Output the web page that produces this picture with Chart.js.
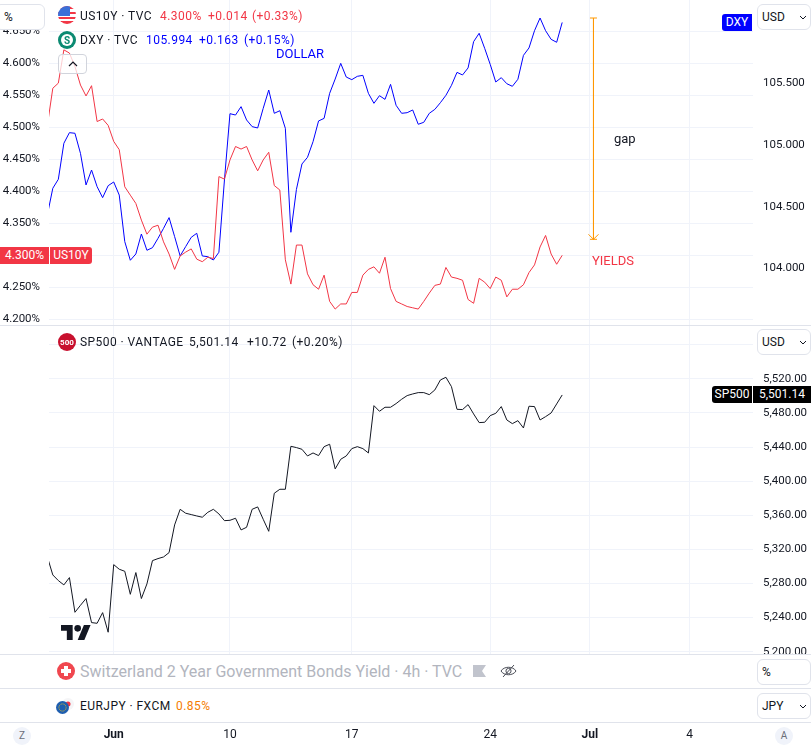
<!DOCTYPE html>
<html lang="en">
<head>
<meta charset="UTF-8">
<title>US10Y DXY SP500</title>
<script src="https://cdn.jsdelivr.net/npm/chart.js"></script>
<style>
  html, body { margin: 0; padding: 0; background: #fff; }
  body { width: 811px; height: 747px; overflow: hidden; position: relative; font-family: Roboto, sans-serif; color: #131722; }
  canvas { position: absolute; left: 0; }
  .abs { position: absolute; white-space: nowrap; }
  .legend { font-size: 12px; line-height: 16px; letter-spacing: 0.45px; }
  .sep { position: absolute; left: 0; width: 811px; height: 1px; background: #e0e3eb; }
  .box { position: absolute; box-sizing: border-box; height: 26px; border: 1px solid #e0e3eb; border-radius: 6px; background: #fff; font-size: 12px; line-height: 24px; padding-left: 4px; }
  .tag { position: absolute; color: #fff; font-size: 12px; line-height: 17px; height: 17px; text-align: center; }
  .round { position: absolute; width: 18px; height: 18px; border-radius: 50%; background: #f0f3fa; color: #6a6d78; font-size: 10px; line-height: 18px; text-align: center; }
  svg { position: absolute; }
</style>
</head>
<body>
<canvas id="topChart" width="811" height="325" style="top:0"></canvas>
<canvas id="bottomChart" width="811" height="422" style="top:325px"></canvas>

<!-- extra panes cover the grid between the price chart and the time axis -->
<div class="abs" style="left:0;top:654px;width:811px;height:68px;background:#fff"></div>
<div class="sep" style="top:325px"></div>
<div class="sep" style="top:654px"></div>
<div class="sep" style="top:688px"></div>
<div class="sep" style="top:722px"></div>

<!-- legend rows -->
<svg style="left:58px;top:6px" width="18" height="18" viewBox="0 0 18 18">
  <defs><clipPath id="c"><circle cx="9" cy="9" r="9"/></clipPath></defs>
  <g clip-path="url(#c)">
    <rect width="18" height="18" fill="#fff"/>
    <rect y="0" width="18" height="3" fill="#f23645"/>
    <rect y="6" width="18" height="2" fill="#f23645"/>
    <rect y="11" width="18" height="2" fill="#f23645"/>
    <rect y="15" width="18" height="3" fill="#f23645"/>
    <rect width="12" height="10" fill="#3a6fd8"/>
  </g>
</svg>
<div class="abs legend" style="left:80px;top:8px">US10Y · TVC</div>
<div class="abs legend" style="left:160px;top:8px;color:#f23645">4.300%</div>
<div class="abs legend" style="left:208px;top:8px;color:#f23645">+0.014</div>
<div class="abs legend" style="left:252px;top:8px;color:#f23645">(+0.33%)</div>

<svg style="left:58px;top:31px" width="18" height="18" viewBox="0 0 18 18">
  <circle cx="9" cy="9" r="9" fill="#0b8a72"/>
  <circle cx="9" cy="9" r="6" fill="#fff"/>
  <text x="9" y="12.5" text-anchor="middle" font-size="10" font-weight="bold" fill="#0b8a72" font-family="Roboto">S</text>
</svg>
<div class="abs legend" style="left:80px;top:32px">DXY · TVC</div>
<div class="abs legend" style="left:146px;top:32px;color:#0000ff">105.994</div>
<div class="abs legend" style="left:199px;top:32px;color:#0000ff">+0.163</div>
<div class="abs legend" style="left:244px;top:32px;color:#0000ff">(+0.15%)</div>

<svg style="left:58px;top:333px" width="18" height="18" viewBox="0 0 18 18">
  <circle cx="9" cy="9" r="9" fill="#c8102e"/>
  <text x="9" y="12" text-anchor="middle" font-size="8" font-weight="bold" fill="#fff" font-family="Roboto">500</text>
</svg>
<div class="abs legend" style="left:80px;top:334px">SP500 · VANTAGE</div>
<div class="abs legend" style="left:189px;top:334px">5,501.14</div>
<div class="abs legend" style="left:247px;top:334px">+10.72</div>
<div class="abs legend" style="left:292px;top:334px">(+0.20%)</div>

<svg style="left:57px;top:662px" width="18" height="18" viewBox="0 0 18 18">
  <circle cx="9" cy="9" r="9" fill="#f0474f"/>
  <rect x="7" y="4" width="4" height="10" fill="#fff"/>
  <rect x="4" y="7" width="10" height="4" fill="#fff"/>
</svg>
<div class="abs" style="left:80px;top:662px;font-size:16px;line-height:20px;color:#b2b5be">Switzerland 2 Year Government Bonds Yield · 4h · TVC</div>
<svg style="left:473px;top:664px" width="13" height="14" viewBox="0 0 13 14">
  <path d="M0 1H13L9 7L13 13H0Z" fill="#c1c4cd"/>
</svg>
<svg style="left:500px;top:663px" width="17" height="16" viewBox="0 0 17 16" fill="none" stroke="#4a4d57" stroke-width="1">
  <path d="M1 8C4 3 13 3 16 8C13 13 4 13 1 8Z"/>
  <circle cx="8.5" cy="8" r="2.6"/>
  <path d="M3 14L14 2"/>
</svg>

<svg style="left:62px;top:698px" width="12" height="12" viewBox="0 0 12 12">
  <circle cx="6" cy="6" r="6" fill="#f5f5f7"/>
  <circle cx="6" cy="6" r="2.5" fill="#f23645"/>
</svg>
<svg style="left:56px;top:701px" width="13" height="13" viewBox="0 0 13 13">
  <circle cx="6.5" cy="6.5" r="6.5" fill="#1f5fb0"/>
  <circle cx="6.5" cy="6.5" r="3.6" fill="none" stroke="#f5c518" stroke-width="1" stroke-dasharray="1 1.2"/>
</svg>
<div class="abs legend" style="left:80px;top:698px">EURJPY · FXCM</div>
<div class="abs legend" style="left:176px;top:698px;color:#f57c00">0.85%</div>

<!-- notes drawn on the chart -->
<div class="abs" style="left:276px;top:46px;font-size:13px;line-height:16px;color:#0000ff">DOLLAR</div>
<div class="abs" style="left:592px;top:253px;font-size:13px;line-height:16px;color:#f23645">YIELDS</div>
<div class="abs" style="left:614px;top:131px;font-size:13px;line-height:16px">gap</div>

<!-- unit buttons -->
<div class="box" style="left:-5px;top:4px;width:50px;padding-left:8px">%</div>
<div class="box" style="left:757px;top:4px;width:54px">USD<svg style="left:41px;top:10px" width="8" height="5" viewBox="0 0 8 5"><path d="M1 1L4 4L7 1" fill="none" stroke="#131722"/></svg></div>
<div class="box" style="left:757px;top:329px;width:54px">USD<svg style="left:41px;top:10px" width="8" height="5" viewBox="0 0 8 5"><path d="M1 1L4 4L7 1" fill="none" stroke="#131722"/></svg></div>
<div class="box" style="left:757px;top:659px;width:54px">%</div>
<div class="box" style="left:757px;top:693px;width:54px">JPY<svg style="left:41px;top:10px" width="8" height="5" viewBox="0 0 8 5"><path d="M1 1L4 4L7 1" fill="none" stroke="#131722"/></svg></div>

<div class="abs" style="left:58px;top:54px;width:29px;height:20px;box-sizing:border-box;border:1px solid #d1d4dc;border-radius:4px;background:rgba(255,255,255,.75)">
  <svg style="left:9px;top:6px" width="10" height="6" viewBox="0 0 10 6"><path d="M1 5L5 1L9 5" fill="none" stroke="#131722" stroke-width="1.2"/></svg>
</div>

<!-- last price tags -->
<div class="tag" style="left:0;top:247px;width:49px;background:#f23645">4.300%</div>
<div class="tag" style="left:50px;top:247px;width:42px;background:#f23645;border-radius:0 3px 3px 0">US10Y</div>
<div class="tag" style="left:722px;top:14px;width:30px;background:#0000ff;border-radius:3px 0 0 3px">DXY</div>
<div class="tag" style="left:712px;top:386px;width:40px;background:#000;border-radius:3px 0 0 3px">SP500</div>
<div class="tag" style="left:753px;top:386px;width:58px;background:#000">5,501.14</div>

<!-- logo -->
<svg style="left:61px;top:625px" width="30" height="15" viewBox="0 4 36 18">
  <path d="M14 22H7V11H0V4h14v18zM28 22h-8l7.5-18h8L28 22z" fill="#131722"/>
  <circle cx="20" cy="8" r="4" fill="#131722"/>
</svg>

<!-- bottom corner buttons -->
<div class="round" style="left:13px;top:727px">Z</div>
<div class="round" style="left:775px;top:727px">A</div>

<script>
const yields = [4.502, 4.561, 4.569, 4.621, 4.616, 4.595, 4.566, 4.549, 4.565, 4.509,
  4.513, 4.503, 4.478, 4.465, 4.407, 4.394, 4.381, 4.355, 4.333, 4.344,
  4.347, 4.321, 4.302, 4.278, 4.299, 4.305, 4.310, 4.294, 4.290, 4.297,
  4.295, 4.423, 4.419, 4.449, 4.470, 4.466, 4.470, 4.449, 4.432, 4.449,
  4.461, 4.409, 4.402, 4.293, 4.255, 4.316, 4.316, 4.271, 4.254, 4.247,
  4.269, 4.228, 4.216, 4.224, 4.224, 4.242, 4.242, 4.269, 4.278, 4.282,
  4.272, 4.297, 4.248, 4.228, 4.224, 4.220, 4.218, 4.216, 4.228, 4.241,
  4.253, 4.255, 4.281, 4.266, 4.264, 4.261, 4.231, 4.225, 4.264, 4.258,
  4.248, 4.266, 4.261, 4.235, 4.247, 4.247, 4.254, 4.273, 4.285, 4.313,
  4.331, 4.302, 4.286, 4.300];

const dollar = [104.430, 104.649, 104.722, 105.014, 105.100, 105.095, 104.932, 104.676, 104.797, 104.662,
  104.573, 104.670, 104.700, 104.594, 104.216, 104.065, 104.116, 104.278, 104.146, 104.167,
  104.243, 104.324, 104.411, 104.257, 104.100, 104.176, 104.251, 104.284, 104.100, 104.094,
  104.067, 104.130, 104.716, 105.254, 105.243, 105.311, 105.203, 105.149, 105.138, 105.297,
  105.446, 105.257, 105.278, 105.135, 104.292, 104.640, 104.846, 104.900, 105.027, 105.195,
  105.216, 105.419, 105.535, 105.662, 105.551, 105.530, 105.557, 105.565, 105.419, 105.338,
  105.400, 105.370, 105.492, 105.322, 105.257, 105.262, 105.284, 105.168, 105.184, 105.257,
  105.289, 105.343, 105.403, 105.484, 105.589, 105.568, 105.625, 105.838, 105.906, 105.784,
  105.654, 105.511, 105.546, 105.497, 105.476, 105.533, 105.727, 105.787, 105.927, 106.030,
  105.927, 105.857, 105.833, 105.994];

const sp500 = [5311.5, 5290.0, 5283.4, 5278.3, 5286.9, 5246.2, 5254.4, 5262.3, 5234.1, 5233.3,
  5245.8, 5222.8, 5302.1, 5296.7, 5294.3, 5267.3, 5292.8, 5262.3, 5279.5, 5306.8,
  5309.2, 5311.1, 5316.2, 5348.7, 5367.0, 5362.4, 5360.8, 5359.2, 5357.7, 5363.5,
  5367.0, 5361.6, 5353.7, 5354.1, 5356.5, 5342.8, 5345.9, 5367.0, 5369.8, 5355.3,
  5341.2, 5385.8, 5390.5, 5390.5, 5440.9, 5439.4, 5437.4, 5429.6, 5433.1, 5430.0,
  5440.5, 5443.3, 5414.4, 5425.7, 5429.6, 5438.2, 5440.5, 5438.2, 5433.1, 5488.6,
  5482.0, 5486.7, 5486.7, 5491.0, 5496.1, 5500.4, 5502.3, 5503.9, 5503.9, 5501.5,
  5507.0, 5518.7, 5521.9, 5510.9, 5484.3, 5484.0, 5489.8, 5478.9, 5468.7, 5469.1,
  5476.9, 5479.6, 5487.5, 5471.8, 5467.5, 5471.0, 5462.4, 5487.9, 5487.5, 5471.8,
  5475.7, 5480.0, 5490.6, 5501.14];

const dateTicks = [12, 33, 55, 80, 98, 116];
const dateLabels = ['Jun', '10', '17', '24', 'Jul', '4'];
const monthLabels = ['Jun', 'Jul'];

const yieldTicks = [4.20, 4.25, 4.30, 4.35, 4.40, 4.45, 4.50, 4.55, 4.60, 4.65];
const dollarTicks = [104.0, 104.5, 105.0, 105.5];
const spTicks = [5200, 5240, 5280, 5320, 5360, 5400, 5440, 5480, 5520, 5560];

// the orange "gap" arrow: bar position, dollar high, where it lands
const gapX = [98.65, 98.65];
const gapY = [106.03, 104.235];

const xRange = { min: 0.314, max: 127.46 };
const gridColor = '#f0f3fa';
const tickFont = { family: 'Roboto, sans-serif', size: 11.5 };

function points(values) {
  return values.map((v, i) => ({ x: i, y: v }));
}

function setTicks(list) {
  return axis => { axis.ticks = list.map(v => ({ value: v })); };
}

// chart.js insets the plot for half a label, we want the plot edge to edge
function noInset(axis) {
  axis.paddingTop = axis.paddingBottom = axis.paddingLeft = axis.paddingRight = 0;
}

function fixedWidth(w) {
  return axis => { axis.width = w; noInset(axis); };
}

function dateScale(showLabels) {
  return {
    type: 'linear',
    min: xRange.min,
    max: xRange.max,
    afterBuildTicks: setTicks(dateTicks),
    afterFit: axis => { axis.height = showLabels ? 25 : 0; noInset(axis); },
    border: { display: false },
    grid: { color: gridColor, drawTicks: false },
    ticks: {
      display: showLabels,
      autoSkip: false,
      maxRotation: 0,
      padding: 6,
      color: '#131722',
      font: ctx => {
        // the scale asks once with no tick while it measures
        const label = ctx.tick ? dateLabels[dateTicks.indexOf(ctx.tick.value)] : '';
        return { family: tickFont.family, size: 12, weight: monthLabels.includes(label) ? 'bold' : 'normal' };
      },
      callback: v => dateLabels[dateTicks.indexOf(v)]
    }
  };
}

// caps on the gap arrow, taken from the dataset's own points
const gapCaps = {
  id: 'gapCaps',
  afterDatasetsDraw(chart) {
    const meta = chart.getDatasetMeta(2);
    if (!meta.data.length) return;
    const top = meta.data[0], end = meta.data[1];
    const ctx = chart.ctx;
    ctx.save();
    ctx.strokeStyle = '#ff9800';
    ctx.lineWidth = 1;
    ctx.beginPath();
    ctx.moveTo(top.x - 3.5, top.y);
    ctx.lineTo(top.x + 3.5, top.y);
    ctx.moveTo(end.x - 5, end.y - 5);
    ctx.lineTo(end.x, end.y);
    ctx.lineTo(end.x + 5, end.y - 5);
    ctx.moveTo(end.x - 3.5, end.y);
    ctx.lineTo(end.x + 3.5, end.y);
    ctx.stroke();
    ctx.restore();
  }
};

const baseOptions = {
  responsive: false,
  animation: false,
  plugins: { legend: { display: false }, tooltip: { enabled: false } },
  elements: { point: { radius: 0 }, line: { tension: 0, borderWidth: 1 } }
};

new Chart(document.getElementById('topChart'), {
  type: 'line',
  data: {
    datasets: [
      { data: points(yields), borderColor: '#f23645', yAxisID: 'y' },
      { data: points(dollar), borderColor: '#0000ff', yAxisID: 'y1' },
      { data: gapX.map((x, i) => ({ x: x, y: gapY[i] })), borderColor: '#ff9800', yAxisID: 'y1' }
    ]
  },
  plugins: [gapCaps],
  options: {
    ...baseOptions,
    scales: {
      x: dateScale(false),
      y: {
        position: 'left',
        min: 4.1911,
        max: 4.6989,
        afterBuildTicks: setTicks(yieldTicks),
        afterFit: fixedWidth(49),
        border: { display: false },
        grid: { color: gridColor, drawTicks: false },
        ticks: { padding: 9, color: '#131722', font: tickFont, callback: v => v.toFixed(3) + '%' }
      },
      y1: {
        position: 'right',
        min: 103.540,
        max: 106.176,
        afterBuildTicks: setTicks(dollarTicks),
        afterFit: fixedWidth(58),
        border: { display: false },
        grid: { display: false, drawTicks: false },
        ticks: { padding: 10, color: '#131722', font: tickFont, callback: v => v.toFixed(3) }
      }
    }
  }
});

new Chart(document.getElementById('bottomChart'), {
  type: 'line',
  data: {
    datasets: [
      { data: points(sp500), borderColor: '#131722', yAxisID: 'y' }
    ]
  },
  options: {
    ...baseOptions,
    layout: { padding: { left: 49 } },
    scales: {
      x: dateScale(true),
      y: {
        position: 'right',
        min: 5117.5,
        max: 5583.2,
        afterBuildTicks: setTicks(spTicks),
        afterFit: fixedWidth(58),
        border: { display: false },
        grid: { color: gridColor, drawTicks: false },
        ticks: {
          padding: 10,
          color: '#131722',
          font: tickFont,
          callback: v => v.toLocaleString('en-US', { minimumFractionDigits: 2 })
        }
      }
    }
  }
});
</script>
</body>
</html>
